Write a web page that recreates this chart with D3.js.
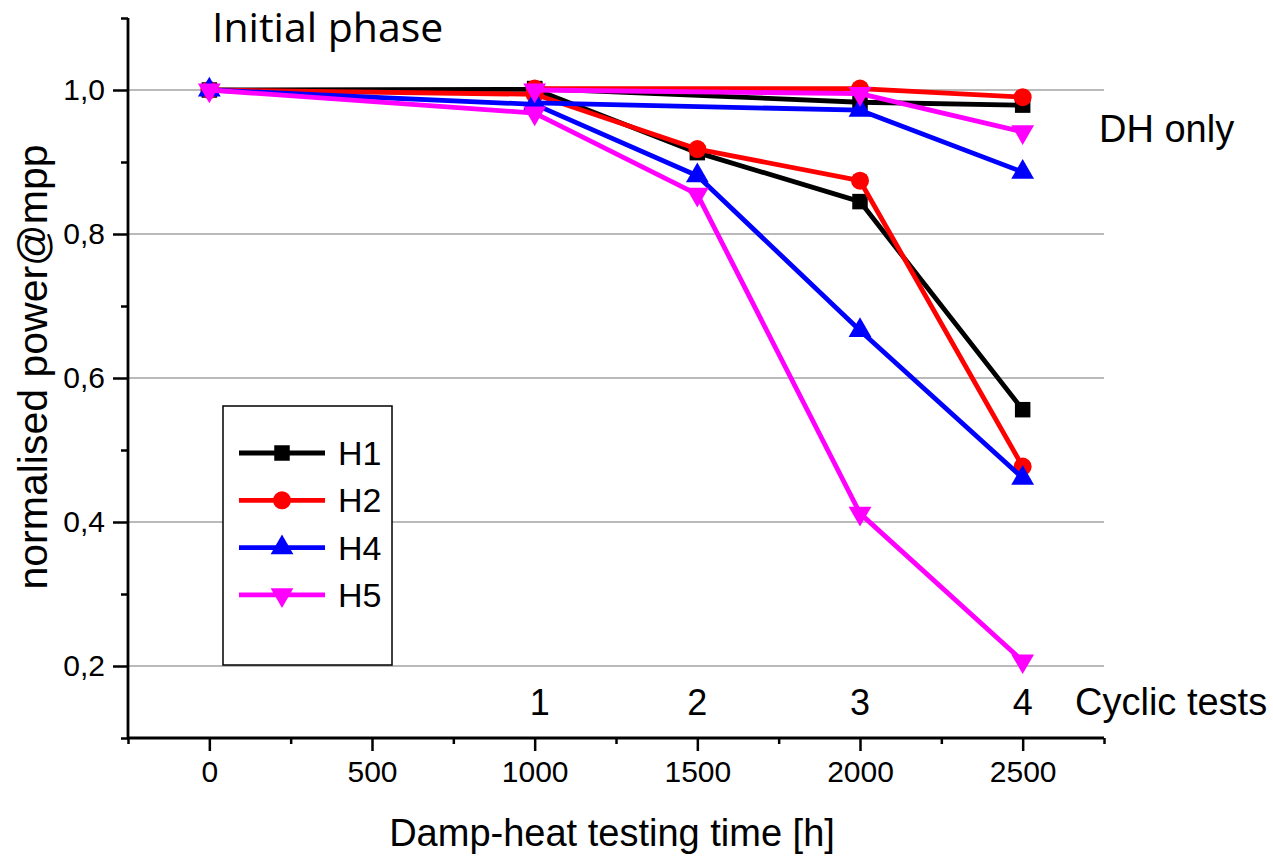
<!DOCTYPE html>
<html>
<head>
<meta charset="utf-8">
<script src="https://cdn.jsdelivr.net/npm/d3@7"></script>
<style>
  html, body { margin: 0; padding: 0; background: #fff; }
  svg { display: block; font-family: "Liberation Sans", Arial, sans-serif; }
</style>
</head>
<body>
<svg id="chart" width="1273" height="856"></svg>
<script>
// Damp-heat testing time [h] for each measurement
const timeCyclic = [0, 1000, 1500, 2000, 2500];
const timeDH = [1000, 2000, 2500];

const seriesNames = ["H1", "H2", "H4", "H5"];
const seriesColors = ["#000000", "#ff0000", "#0000ff", "#ff00ff"];

// normalised power at mpp, damp heat combined with cyclic tests
const cyclicH1 = [1.000, 1.001, 0.913, 0.845, 0.556];
const cyclicH2 = [1.000, 0.994, 0.918, 0.874, 0.477];
const cyclicH4 = [1.000, 0.980, 0.881, 0.666, 0.461];
const cyclicH5 = [1.000, 0.968, 0.855, 0.412, 0.207];

// normalised power at mpp, damp heat only
const dhH1 = [1.002, 0.983, 0.979];
const dhH2 = [1.002, 1.002, 0.990];
const dhH4 = [0.982, 0.972, 0.886];
const dhH5 = [1.000, 0.995, 0.942];

const cyclicValues = [cyclicH1, cyclicH2, cyclicH4, cyclicH5];
const dhValues = [dhH1, dhH2, dhH4, dhH5];

// axis ticks
const xMajorTicks = [0, 500, 1000, 1500, 2000, 2500];
const xMinorTicks = [-250, 250, 750, 1250, 1750, 2250, 2750];
const yMajorTicks = [0.2, 0.4, 0.6, 0.8, 1.0];
const yMinorTicks = [0.1, 0.3, 0.5, 0.7, 0.9, 1.1];
const cycleTime = [1000, 1500, 2000, 2500];
const cycleLabels = ["1", "2", "3", "4"];

const svg = d3.select("#chart");

const plot = { left: 128, right: 1104, top: 18, bottom: 738 };

const x = d3.scaleLinear().domain([-250, 2750]).range([plot.left, plot.right]);
const y = d3.scaleLinear().domain([0.1, 1.1]).range([plot.bottom, plot.top]);

const fmtComma = d => d3.format(".1f")(d).replace(".", ",");

// horizontal grid lines
svg.append("g")
  .selectAll("line")
  .data(yMajorTicks)
  .join("line")
  .attr("x1", plot.left)
  .attr("x2", plot.right)
  .attr("y1", d => y(d))
  .attr("y2", d => y(d))
  .attr("stroke", "#a3a3a3")
  .attr("stroke-width", 1.3);

// x axis
const xAxisG = svg.append("g").attr("transform", `translate(0,${plot.bottom})`);
xAxisG.call(d3.axisBottom(x).tickValues(xMinorTicks).tickSize(6).tickFormat(""))
  .call(g => g.select(".domain").remove());
xAxisG.append("g").call(d3.axisBottom(x).tickValues(xMajorTicks).tickSize(13).tickPadding(10).tickFormat(d3.format("d")))
  .call(g => g.select(".domain").remove())
  .call(g => g.selectAll("text").attr("font-size", 30).attr("fill", "#000")
    .attr("font-family", "'Liberation Sans', Arial, sans-serif"));
xAxisG.selectAll(".tick line").attr("stroke", "#000").attr("stroke-width", 2.5);
xAxisG.append("line")
  .attr("x1", plot.left - 1).attr("x2", plot.right)
  .attr("stroke", "#000").attr("stroke-width", 2.8);

// y axis
const yAxisG = svg.append("g").attr("transform", `translate(${plot.left},0)`);
yAxisG.call(d3.axisLeft(y).tickValues(yMinorTicks).tickSize(7).tickFormat(""))
  .call(g => g.select(".domain").remove());
yAxisG.append("g").call(d3.axisLeft(y).tickValues(yMajorTicks).tickSize(15).tickPadding(8).tickFormat(fmtComma))
  .call(g => g.select(".domain").remove())
  .call(g => g.selectAll("text").attr("font-size", 30).attr("fill", "#000")
    .attr("font-family", "'Liberation Sans', Arial, sans-serif"));
yAxisG.selectAll(".tick line").attr("stroke", "#000").attr("stroke-width", 2.5);
yAxisG.append("line")
  .attr("y1", plot.top).attr("y2", plot.bottom + 1)
  .attr("stroke", "#000").attr("stroke-width", 2.8);

// marker shapes
const symbolTypes = [d3.symbolSquare, d3.symbolCircle, d3.symbolTriangle, d3.symbolTriangle];
const symbolSizes = [240, 255, 225, 225];
const symbolRotate = [0, 0, 0, 180];
const markerPath = i => d3.symbol().type(symbolTypes[i]).size(symbolSizes[i])();

const line = d3.line().x(d => x(d[0])).y(d => y(d[1]));

function drawSeries(times, values, i) {
  const pts = times.map((t, k) => [t, values[k]]);
  const g = svg.append("g");
  g.append("path")
    .attr("d", line(pts))
    .attr("fill", "none")
    .attr("stroke", seriesColors[i])
    .attr("stroke-width", 4.8)
    .attr("stroke-linejoin", "round");
  g.selectAll("path.mark")
    .data(pts)
    .join("path")
    .attr("class", "mark")
    .attr("d", markerPath(i))
    .attr("transform", d => `translate(${x(d[0])},${y(d[1])}) rotate(${symbolRotate[i]})`)
    .attr("fill", seriesColors[i]);
}

seriesNames.forEach((name, i) => {
  drawSeries(timeCyclic, cyclicValues[i], i);
  drawSeries(timeDH, dhValues[i], i);
});

// legend
const legend = svg.append("g");
legend.append("rect")
  .attr("x", 223).attr("y", 406).attr("width", 169).attr("height", 259)
  .attr("fill", "#fff").attr("stroke", "#000").attr("stroke-width", 1.5);
seriesNames.forEach((name, i) => {
  const ly = 453 + i * 47.3;
  legend.append("line")
    .attr("x1", 239).attr("x2", 325).attr("y1", ly).attr("y2", ly)
    .attr("stroke", seriesColors[i]).attr("stroke-width", 4.8);
  legend.append("path")
    .attr("d", markerPath(i))
    .attr("transform", `translate(282,${ly}) rotate(${symbolRotate[i]})`)
    .attr("fill", seriesColors[i]);
  legend.append("text")
    .attr("x", 338).attr("y", ly + 12)
    .attr("font-size", 34)
    .text(name);
});

// cycle numbers along the time axis
svg.append("g")
  .selectAll("text")
  .data(cycleTime)
  .join("text")
  .attr("x", (d, i) => x(d) + (i === 0 ? 5 : 0))
  .attr("y", 715)
  .attr("text-anchor", "middle")
  .attr("font-size", 36)
  .text((d, i) => cycleLabels[i]);

svg.append("text")
  .attr("x", 1075).attr("y", 715)
  .attr("font-size", 38)
  .text("Cyclic tests");

svg.append("text")
  .attr("x", 1099).attr("y", 142)
  .attr("font-size", 38)
  .text("DH only");

svg.append("text")
  .attr("x", 212).attr("y", 42)
  .attr("font-family", "'Open Sans', sans-serif")
  .attr("font-size", 41)
  .text("Initial phase");

// axis titles
svg.append("text")
  .attr("x", 612).attr("y", 846)
  .attr("text-anchor", "middle")
  .attr("font-size", 38)
  .text("Damp-heat testing time [h]");

svg.append("text")
  .attr("transform", "translate(47,367) rotate(-90)")
  .attr("text-anchor", "middle")
  .attr("font-size", 41)
  .text("normalised power@mpp");
</script>
</body>
</html>
